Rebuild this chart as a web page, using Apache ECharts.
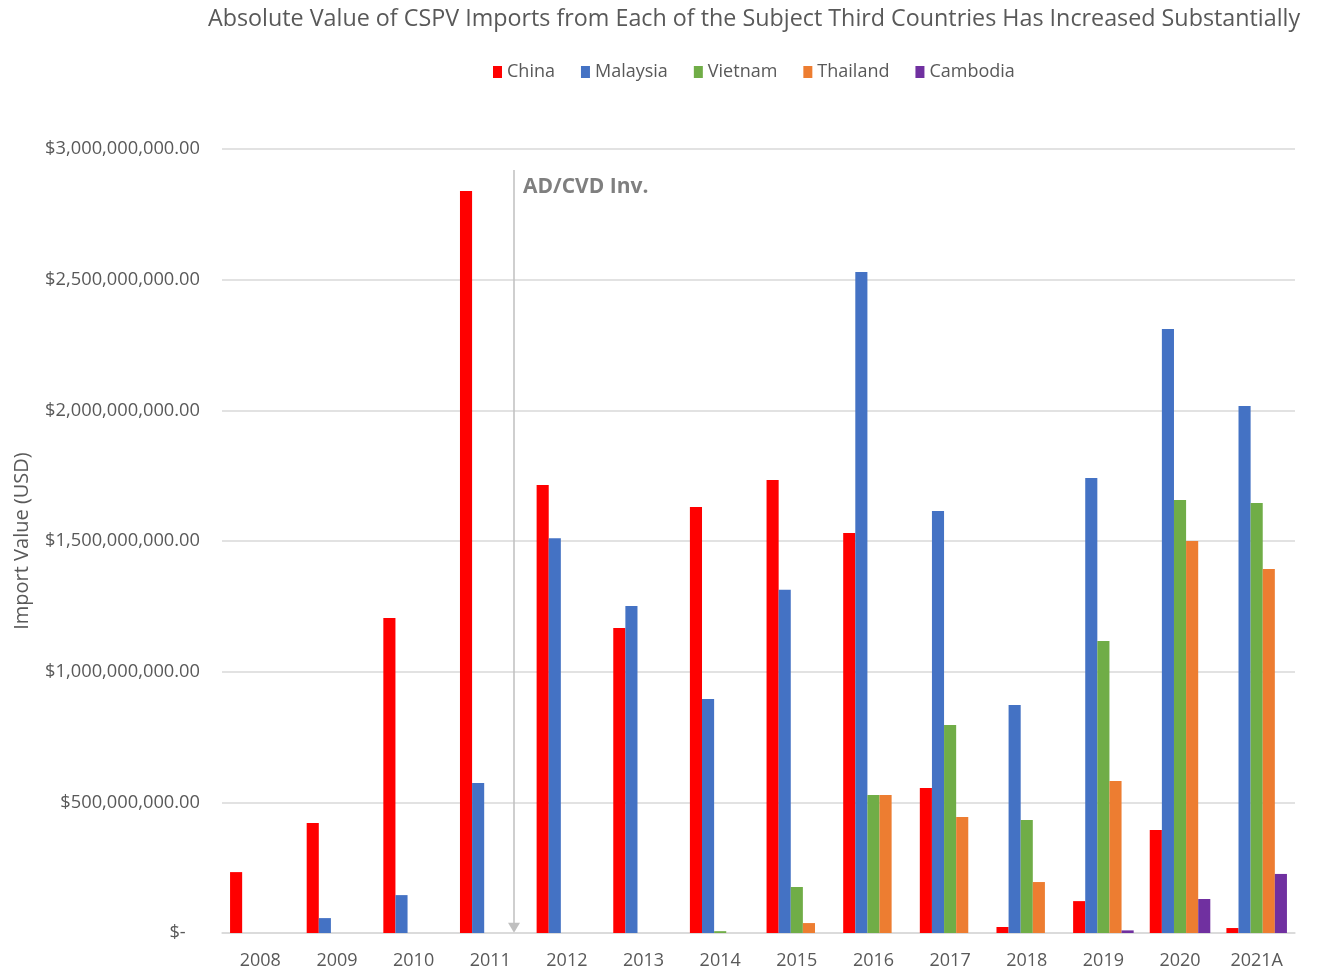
<!DOCTYPE html>
<html>
<head>
<meta charset="utf-8">
<script src="https://cdn.jsdelivr.net/npm/echarts@6/dist/echarts.min.js"></script>
<style>
  html, body { margin: 0; padding: 0; background: #fff; }
  #chart { width: 1317px; height: 970px; }
</style>
</head>
<body>
<div id="chart"></div>
<script>
// CSPV import values (USD) by year and source country
const years = ['2008', '2009', '2010', '2011', '2012', '2013', '2014', '2015', '2016', '2017', '2018', '2019', '2020', '2021A'];
const china    = [233e6, 421e6, 1205e6, 2839e6, 1714e6, 1167e6, 1630e6, 1733e6, 1531e6, 555e6, 23e6, 122e6, 394e6, 19e6];
const malaysia = [0, 57e6, 145e6, 574e6, 1511e6, 1251e6, 895e6, 1313e6, 2529e6, 1615e6, 872e6, 1741e6, 2311e6, 2017e6];
const vietnam  = [0, 0, 0, 0, 0, 0, 7e6, 176e6, 528e6, 796e6, 432e6, 1117e6, 1657e6, 1645e6];
const thailand = [0, 0, 0, 0, 0, 0, 0, 38e6, 528e6, 444e6, 195e6, 582e6, 1500e6, 1393e6];
const cambodia = [0, 0, 0, 0, 0, 0, 0, 0, 0, 0, 0, 10e6, 130e6, 226e6];

// AD/CVD investigation marker: position on the category scale (index units)
const invPosition = 3.31;
const invTop = 2.92e9;
const invBottom = 0.02e9;

const FONT = '"Open Sans", "Noto Sans", sans-serif';
const TXT = '#595959';

function money(v) {
  if (v === 0) return '$-   ';
  return '$' + v.toLocaleString('en-US', { minimumFractionDigits: 2, maximumFractionDigits: 2 });
}

const chart = echarts.init(document.getElementById('chart'));

function barSeries(name, data, color) {
  return {
    name, type: 'bar', data,
    barGap: '0%', barCategoryGap: '21%',
    itemStyle: { color },
    emphasis: { disabled: true }
  };
}

chart.setOption({
  animation: false,
  textStyle: { fontFamily: FONT },
  title: {
    text: 'Absolute Value of CSPV Imports from Each of the Subject Third Countries Has Increased Substantially',
    left: 203, top: 3,
    textStyle: { fontFamily: FONT, fontSize: 23.3, fontWeight: 'normal', color: TXT }
  },
  legend: {
    data: ['China', 'Malaysia', 'Vietnam', 'Thailand', 'Cambodia'],
    left: 488, top: 58,
    itemWidth: 9, itemHeight: 12, itemGap: 26,
    icon: 'rect',
    textStyle: { fontFamily: FONT, fontSize: 18, color: TXT }
  },
  grid: { left: 222, right: 22, top: 149, bottom: 37, containLabel: false },
  xAxis: [{
    type: 'category',
    data: years,
    axisLine: { lineStyle: { color: '#d9d9d9', width: 1.5 } },
    axisTick: { show: false },
    axisLabel: { fontFamily: FONT, fontSize: 18, color: TXT, margin: 19 }
  }, {
    type: 'value', min: -0.5, max: years.length - 0.5, show: false
  }],
  yAxis: {
    type: 'value',
    min: 0, max: 3e9, interval: 5e8,
    name: 'Import Value (USD)',
    nameLocation: 'middle', nameGap: 190, nameRotate: 90,
    nameTextStyle: { fontFamily: FONT, fontSize: 20, color: TXT },
    axisLine: { show: false },
    axisTick: { show: false },
    splitLine: { lineStyle: { color: '#d9d9d9', width: 1.5 } },
    axisLabel: { fontFamily: FONT, fontSize: 18.3, color: TXT, margin: 22, formatter: money }
  },
  series: [
    barSeries('China', china, '#FF0000'),
    barSeries('Malaysia', malaysia, '#4472C4'),
    barSeries('Vietnam', vietnam, '#70AD47'),
    barSeries('Thailand', thailand, '#ED7D31'),
    barSeries('Cambodia', cambodia, '#7030A0'),
    {
      type: 'line', xAxisIndex: 1, data: [], silent: true,
      markLine: {
        silent: true, animation: false,
        symbol: ['none', 'triangle'], symbolSize: [12, 10],
        lineStyle: { color: '#bfbfbf', width: 1.5, type: 'solid' },
        label: { show: false },
        data: [[{ coord: [invPosition, invTop] }, { coord: [invPosition, invBottom] }]]
      }
    }
  ],
  graphic: [{
    type: 'text', left: 523, top: 177,
    style: { text: 'AD/CVD Inv.', fill: '#7f7f7f', font: 'bold 21px ' + FONT }
  }]
});
</script>
</body>
</html>
